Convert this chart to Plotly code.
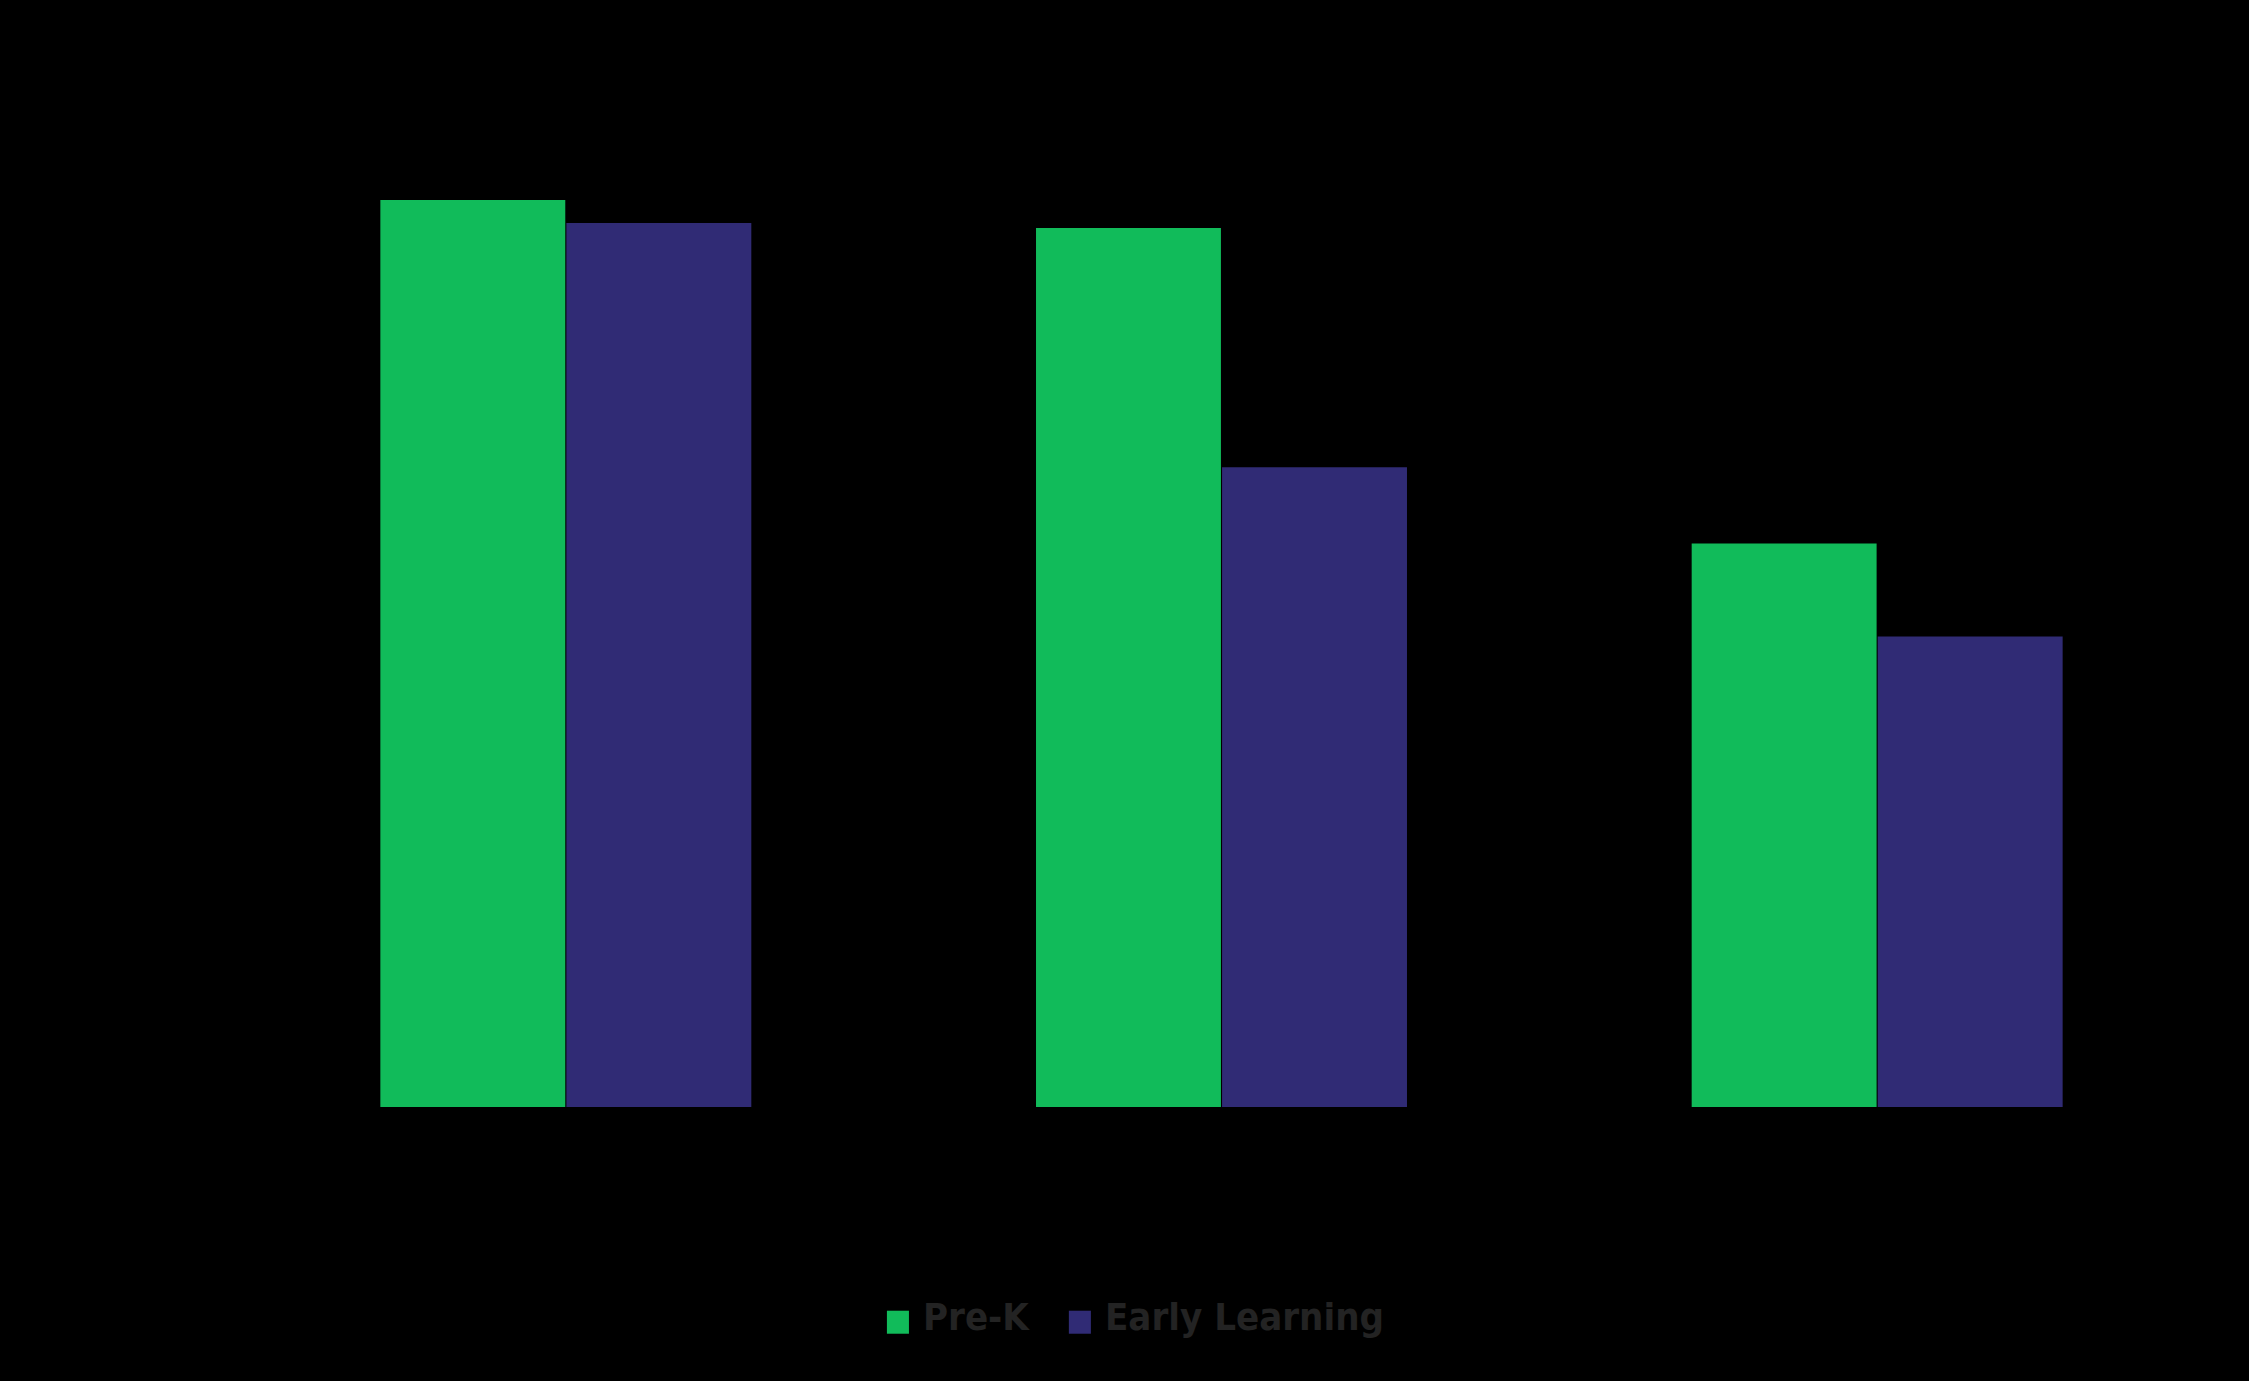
import plotly.graph_objects as go

# Data (category labels are not visible in the reference; black-on-black)
categories = ["Group 1", "Group 2", "Group 3"]
series_names = ["Pre-K", "Early Learning"]
prek_values = [90.6, 87.8, 56.3]
early_values = [88.3, 63.9, 47.0]

GREEN = "#11BB5A"
BLUE = "#302B75"
TEXT = "#232323"

fig = go.Figure()
fig.add_trace(go.Bar(x=categories, y=prek_values, name=series_names[0],
                     marker=dict(color=GREEN, line=dict(width=0)), showlegend=False))
fig.add_trace(go.Bar(x=categories, y=early_values, name=series_names[1],
                     marker=dict(color=BLUE, line=dict(width=0)), showlegend=False))

# Manual legend (large squares, condensed bold text)
sq_y0, sq_y1 = -0.2265, -0.2035
legend_items = [
    (0.3299, 0.3411, 0.3470, series_names[0], GREEN),
    (0.4224, 0.4336, 0.4400, series_names[1], BLUE),
]
for x0, x1, xt, label, col in legend_items:
    fig.add_shape(type="rect", xref="paper", yref="paper", x0=x0, x1=x1,
                  y0=sq_y0, y1=sq_y1, fillcolor=col, line=dict(width=0))
    fig.add_annotation(xref="paper", yref="paper", x=xt, y=-0.2100,
                       xanchor="left", yanchor="middle", showarrow=False,
                       text="<b>" + label + "</b>",
                       font=dict(family="DejaVu Sans Condensed, Liberation Sans Narrow, sans-serif",
                                 size=38, color=TEXT))

fig.update_layout(
    width=2249, height=1381,
    margin=dict(l=238, r=44, t=106, b=274),
    paper_bgcolor="black", plot_bgcolor="black",
    barmode="group", bargap=0.4325, bargroupgap=0.006,
    xaxis=dict(showticklabels=False, showgrid=False, zeroline=False, showline=False,
               ticks="", range=[-0.5, 2.5]),
    yaxis=dict(showticklabels=False, showgrid=False, zeroline=False, showline=False,
               ticks="", range=[0, 100]),
)

fig.write_html("out.html", config={"displayModeBar": False},
               post_script="document.body.style.margin='0';document.body.style.background='black';")
